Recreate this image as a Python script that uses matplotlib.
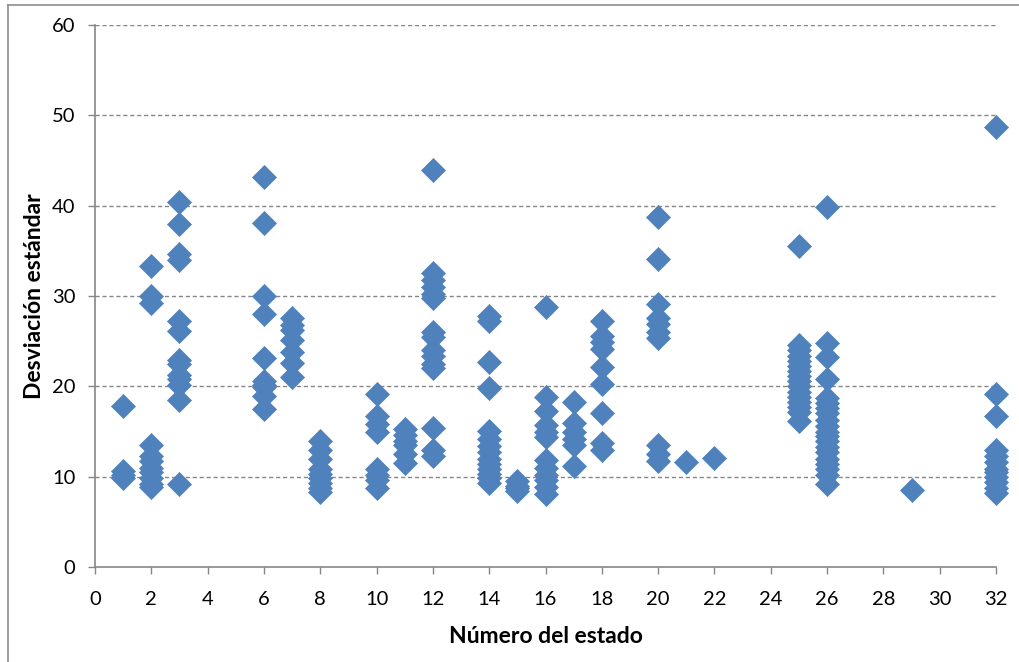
import matplotlib
matplotlib.use("Agg")
import matplotlib.pyplot as plt
from matplotlib.lines import Line2D

states = [1, 2, 3, 6, 7, 8, 10, 11, 12, 14, 15, 16, 17, 18, 20, 21, 22, 25, 26, 29, 32]
s1 = [17.8, 10.6, 10.2, 9.9]
s2 = [33.3, 30.0, 29.2, 13.5, 12.3, 11.7, 11.0, 10.5, 9.8, 9.2, 8.9]
s3 = [40.4, 38.0, 34.6, 34.0, 27.2, 26.1, 22.9, 22.5, 21.2, 20.8, 20.2, 18.5, 9.2]
s6 = [43.2, 38.1, 30.0, 28.0, 23.1, 20.6, 20.2, 19.9, 18.9, 17.5]
s7 = [27.6, 26.8, 26.2, 25.1, 23.8, 22.6, 21.0]
s8 = [14.0, 13.0, 12.0, 10.9, 10.3, 9.8, 9.3, 8.7, 8.3]
s10 = [19.1, 16.7, 15.8, 15.0, 10.8, 10.2, 9.6, 8.7]
s11 = [15.3, 14.6, 14.0, 13.5, 12.5, 11.5]
s12 = [43.9, 32.5, 31.8, 31.0, 30.2, 29.8, 26.0, 25.5, 24.0, 23.4, 22.5, 22.0, 15.4, 12.9, 12.3]
s14 = [27.8, 27.2, 22.7, 19.8, 15.1, 14.2, 13.4, 12.7, 12.0, 11.4, 10.9, 10.3, 9.8, 9.3]
s15 = [9.5, 9.0, 8.7, 8.4]
s16 = [28.8, 18.8, 17.3, 15.7, 15.0, 14.4, 11.9, 11.0, 10.2, 9.6, 8.9, 8.1]
s17 = [18.3, 15.9, 15.0, 14.2, 13.5, 11.2]
s18 = [27.2, 25.6, 24.9, 24.1, 22.1, 20.3, 17.1, 13.7, 13.0]
s20 = [38.8, 34.1, 29.1, 27.6, 26.9, 26.0, 25.3, 13.5, 12.5, 11.7]
s21 = [11.6]
s22 = [12.1]
s25 = [35.5, 24.6, 24.0, 23.4, 22.8, 22.2, 21.7, 21.1, 20.6, 20.0, 19.4, 18.8, 18.3, 17.7, 17.2, 16.2]
s26 = [39.8, 24.8, 23.3, 20.8, 18.7, 18.2, 17.6, 17.0, 16.3, 15.6, 15.0, 14.5, 13.9,
       13.3, 12.7, 12.0, 11.4, 10.8, 10.2, 9.2]
s29 = [8.5]
s32 = [48.7, 19.1, 16.7, 13.0, 12.3, 11.6, 10.9, 10.5, 10.0, 9.4, 8.8, 8.2]
series = [s1, s2, s3, s6, s7, s8, s10, s11, s12, s14, s15, s16, s17, s18, s20, s21, s22, s25, s26, s29, s32]

xticks = list(range(0, 33, 2))
yticks = [0, 10, 20, 30, 40, 50, 60]

xs, ys = [], []
for st, vals in zip(states, series):
    xs += [st] * len(vals)
    ys += vals

plt.rcParams['font.family'] = ['Lato', 'DejaVu Sans']
fig = plt.figure(figsize=(10.19, 6.62), dpi=100)
ax = fig.add_axes([95/1019, 1 - 567/662, (996-95)/1019, (567-25)/662])

# chart-area border (left and top visible)
fig.add_artist(Line2D([8/1019, 8/1019], [0, 1 - 5/662], transform=fig.transFigure,
                      color='#8c8c8c', linewidth=1.2))
fig.add_artist(Line2D([8/1019, 1], [1 - 5/662, 1 - 5/662], transform=fig.transFigure,
                      color='#8c8c8c', linewidth=1.2))

ax.scatter(xs, ys, marker='D', s=150, color='#4F81BD', edgecolors='#4F81BD',
           linewidths=0.5, zorder=3, clip_on=False)

ax.set_xlim(0, 32)
ax.set_ylim(0, 60)
ax.set_xticks(xticks)
ax.set_yticks(yticks)
for y in yticks[1:]:
    ax.axhline(y, color='#868686', linestyle=(0, (3, 2)), linewidth=1.0, zorder=1)
for sp in ['top', 'right']:
    ax.spines[sp].set_visible(False)
for sp in ['left', 'bottom']:
    ax.spines[sp].set_color('#868686')
    ax.spines[sp].set_linewidth(1.2)
ax.tick_params(axis='both', direction='out', length=5, color='#868686', labelsize=14.5, width=1.0)
ax.tick_params(axis='x', pad=12)
ax.tick_params(axis='y', pad=9)
ax.set_xlabel('Número del estado', fontsize=16.5, fontweight='bold', labelpad=13)
ax.set_ylabel('Desviación estándar', fontsize=16.5, fontweight='bold', labelpad=5)

fig.savefig('out.png', dpi=100)
